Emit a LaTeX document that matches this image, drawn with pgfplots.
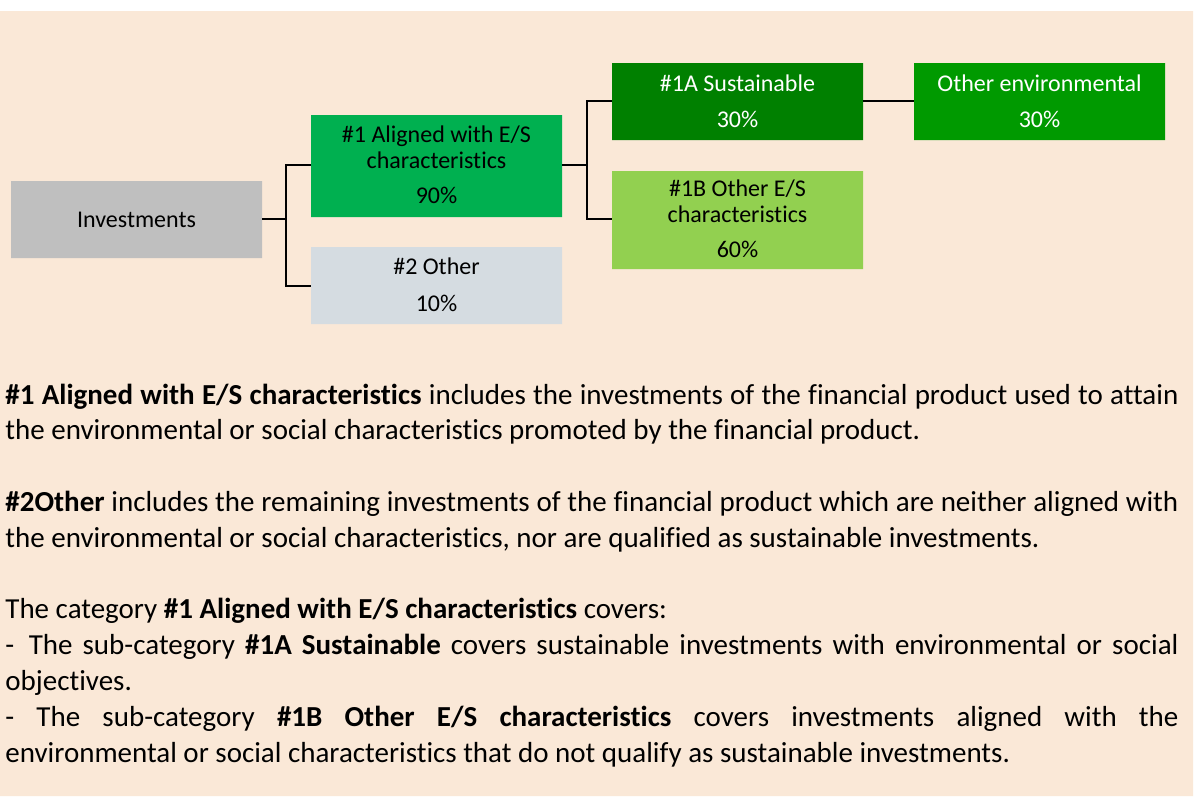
\documentclass[border=0pt]{standalone}
\usepackage{pgfplots}
\pgfplotsset{compat=1.18}
\usepackage{fontspec}
\setmainfont{Carlito}[Ligatures=NoCommon]
\definecolor{bgbeige}{HTML}{FAE8D7}
\definecolor{invgray}{HTML}{BFBFBF}
\definecolor{alignedgreen}{HTML}{00B050}
\definecolor{othergray}{HTML}{D5DCE1}
\definecolor{sustgreen}{HTML}{008000}
\definecolor{envgreen}{HTML}{009A00}
\definecolor{esgreen}{HTML}{92D050}

\begin{document}
\begin{tikzpicture}
\begin{axis}[
  width=598.5pt, height=399.5pt, scale only axis,
  xmin=0, xmax=1197, ymin=0, ymax=799, y dir=reverse,
  hide axis, clip=false,
]
% page background
\addplot[fill=white, draw=none] coordinates {(0,0) (1197,0) (1197,799) (0,799) (0,0)};
\addplot[fill=bgbeige, draw=none] coordinates {(0,11) (1193,11) (1193,796) (0,796) (0,11)};

% boxes
\addplot[fill=invgray, draw=none] coordinates {(11,181) (262,181) (262,258) (11,258) (11,181)};
\addplot[fill=alignedgreen, draw=none] coordinates {(311,115) (562,115) (562,217) (311,217) (311,115)};
\addplot[fill=othergray, draw=none] coordinates {(311,247) (562,247) (562,324) (311,324) (311,247)};
\addplot[fill=sustgreen, draw=none] coordinates {(612,63) (863,63) (863,140) (612,140) (612,63)};
\addplot[fill=envgreen, draw=none] coordinates {(914,63) (1165,63) (1165,140) (914,140) (914,63)};
\addplot[fill=esgreen, draw=none] coordinates {(612,171) (863,171) (863,269) (612,269) (612,171)};

% connectors
\addplot[black, line width=0.75pt] coordinates {(262,219) (286,219)};
\addplot[black, line width=0.75pt] coordinates {(311,165) (286,165) (286,286) (311,286)};
\addplot[black, line width=0.75pt] coordinates {(562,165) (587,165)};
\addplot[black, line width=0.75pt] coordinates {(612,101) (587,101) (587,219) (612,219)};
\addplot[black, line width=0.75pt] coordinates {(863,101) (914,101)};

% box labels
\begin{scope}[every node/.style={anchor=base, inner sep=0pt, font=\fontsize{12pt}{14pt}\selectfont}]
\node at (axis cs:136.5,227) {Investments};
\node at (axis cs:436.5,142) {\#1 Aligned with E/S};
\node at (axis cs:436.5,168) {characteristics};
\node at (axis cs:436.5,203) {90\%};
\node at (axis cs:436.5,274) {\#2 Other};
\node at (axis cs:436.5,311) {10\%};
\node[text=white] at (axis cs:737.5,91) {\#1A Sustainable};
\node[text=white] at (axis cs:737.5,127) {30\%};
\node[text=white] at (axis cs:1039.5,91) {Other environmental};
\node[text=white] at (axis cs:1039.5,127) {30\%};
\node at (axis cs:737.5,196) {\#1B Other E/S};
\node at (axis cs:737.5,222) {characteristics};
\node at (axis cs:737.5,257) {60\%};
\end{scope}

% explanatory text
\node[anchor=base west, inner sep=0pt, text width=586.5pt, align=justify,
      font=\fontsize{14.5pt}{17.9pt}\selectfont]
  at (axis cs:5,404) {%
  \parindent=0pt\hyphenpenalty=10000\exhyphenpenalty=10000\emergencystretch=2em
  \textbf{\#1 Aligned with E/S characteristics} includes the investments of the financial product used to attain the environmental or social characteristics promoted by the financial product.\par
  \vspace{17.9pt}
  \textbf{\#2Other} includes the remaining investments of the financial product which are neither aligned with the environmental or social characteristics, nor are qualified as sustainable investments.\par
  \vspace{17.9pt}
  The category \textbf{\#1 Aligned with E/S characteristics} covers:\par
  -\enspace The sub-category \textbf{\#1A Sustainable} covers sustainable investments with environmental or social objectives.\par
  - The sub-category \textbf{\#1B Other E/S characteristics} covers investments aligned with the\linebreak{} environmental or social characteristics that do not qualify as sustainable investments.\par};
\end{axis}
\end{tikzpicture}
\end{document}
